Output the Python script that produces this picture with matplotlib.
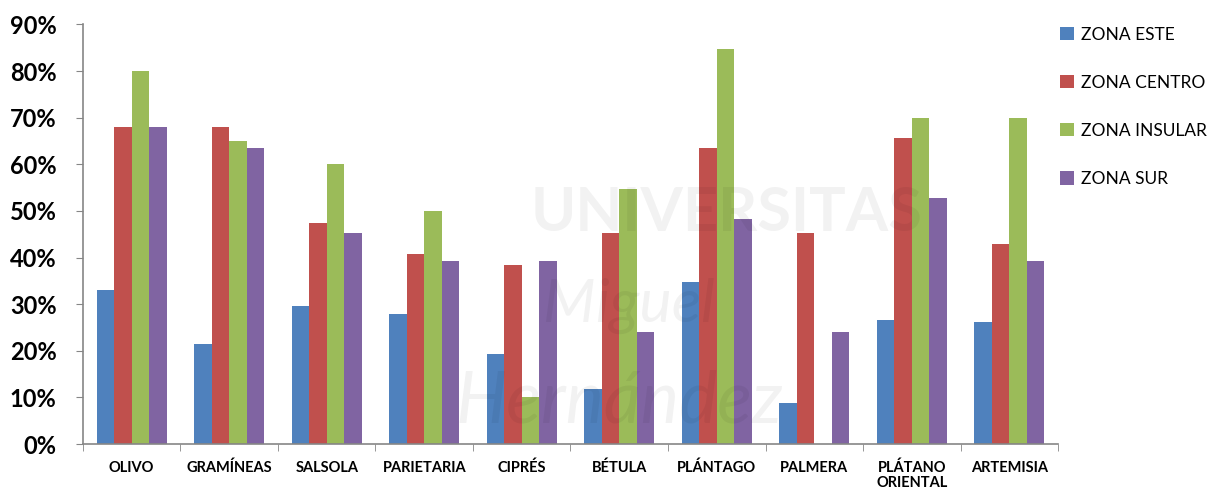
import numpy as np
import matplotlib
matplotlib.use("Agg")
import matplotlib.pyplot as plt
from matplotlib.ticker import PercentFormatter, FixedLocator

plt.rcParams['font.family'] = ['Lato', 'DejaVu Sans']

categorias = ['OLIVO', 'GRAMÍNEAS', 'SALSOLA', 'PARIETARIA', 'CIPRÉS', 'BÉTULA',
              'PLÁNTAGO', 'PALMERA', 'PLÁTANO\nORIENTAL', 'ARTEMISIA']
zona_este = [33, 21.5, 29.6, 27.8, 19.3, 11.8, 34.7, 8.9, 26.7, 26.1]
zona_centro = [68, 68, 47.5, 40.7, 38.4, 45.3, 63.5, 45.3, 65.7, 43]
zona_insular = [80, 65, 60, 50, 10, 54.7, 84.7, 0, 70, 70]
zona_sur = [68, 63.5, 45.3, 39.2, 39.2, 24, 48.2, 24, 52.7, 39.2]

series = [('ZONA ESTE', zona_este, '#4F81BD'),
          ('ZONA CENTRO', zona_centro, '#C0504D'),
          ('ZONA INSULAR', zona_insular, '#9BBB59'),
          ('ZONA SUR', zona_sur, '#8064A2')]

fig = plt.figure(figsize=(12.19, 4.99), dpi=100)
ax = fig.add_axes([0.068, 0.110, 0.800, 0.841])

x = np.arange(len(categorias))
w = 0.18
for i, (nombre, vals, col) in enumerate(series):
    ax.bar(x + (i - 1.5) * w, vals, width=w, color=col, label=nombre, zorder=2)

# marca de agua
ax.text(0.66, 0.55, 'UNIVERSITAS', transform=ax.transAxes, fontsize=44, fontweight='bold',
        color='#000000', alpha=0.05, ha='center', va='center', zorder=3)
ax.text(0.56, 0.33, 'Miguel', transform=ax.transAxes, fontsize=44, style='italic',
        color='#000000', alpha=0.05, ha='center', va='center', zorder=3)
ax.text(0.55, 0.10, 'Hernández', transform=ax.transAxes, fontsize=52, style='italic',
        color='#000000', alpha=0.05, ha='center', va='center', zorder=3)

ax.set_xlim(-0.5, len(categorias) - 0.5)
ax.set_ylim(0, 90)
ax.set_yticks(np.arange(0, 91, 10))
ax.yaxis.set_major_formatter(PercentFormatter(decimals=0))
ax.set_xticks(x)
ax.set_xticklabels(categorias, fontsize=10.5, fontweight='bold', linespacing=1.1)
ax.xaxis.set_minor_locator(FixedLocator(np.arange(-0.5, len(categorias), 1)))
ax.tick_params(axis='x', which='major', length=0, pad=12)
ax.tick_params(axis='x', which='minor', length=5, color='#868686', direction='out')
ax.tick_params(axis='y', length=5, color='#868686', pad=14, labelsize=17)
for lab in ax.get_yticklabels():
    lab.set_fontweight('bold')

for s in ['top', 'right']:
    ax.spines[s].set_visible(False)
for s in ['left', 'bottom']:
    ax.spines[s].set_color('#868686')
    ax.spines[s].set_linewidth(1.2)

fig.legend(loc='upper left', bbox_to_anchor=(0.857, 0.978), frameon=False, fontsize=12.5,
           handlelength=0.8, handleheight=0.8, handletextpad=0.4, labelspacing=1.85)

fig.savefig('out.png', dpi=100)
